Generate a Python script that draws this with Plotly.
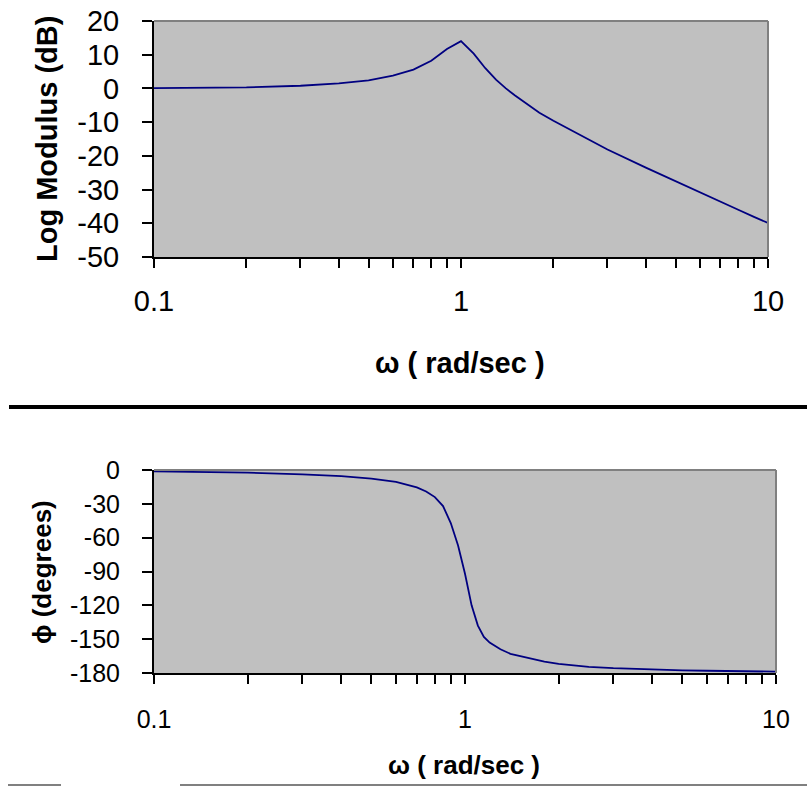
import plotly.graph_objects as go

# ---- data ----
omega_mag = [0.1, 0.2, 0.3, 0.4, 0.5, 0.6, 0.7, 0.8, 0.9, 1.0, 1.1, 1.2, 1.3, 1.4,
             1.5, 1.6, 1.8, 2.0, 2.5, 3.0, 4.0, 5.0, 6.0, 7.0, 8.0, 9.0, 10.0]
log_modulus_db = [0.1, 0.3, 0.8, 1.5, 2.4, 3.8, 5.6, 8.2, 11.7, 14.0, 10.3, 6.0, 2.6, 0.0,
                  -2.1, -4.0, -7.2, -9.6, -14.4, -18.1, -23.5, -27.6, -30.9, -33.6, -36.0, -38.1, -39.9]

omega_phase = [0.1, 0.2, 0.3, 0.4, 0.5, 0.6, 0.7, 0.75, 0.8, 0.85, 0.9, 0.95, 1.0, 1.05,
               1.1, 1.15, 1.2, 1.3, 1.4, 1.6, 1.8, 2.0, 2.5, 3.0, 4.0, 5.0, 6.0, 7.0, 8.0, 9.0, 10.0]
phase_deg = [-1.2, -2.4, -3.8, -5.4, -7.6, -10.6, -15.4, -19.0, -24.0, -32.0, -47.0, -67.0, -92.0, -120.0,
             -138.0, -148.0, -153.0, -159.0, -163.0, -167.0, -170.0, -172.0, -174.5, -175.7, -177.0,
             -177.6, -178.0, -178.3, -178.5, -178.7, -178.8]

x_tickvals = [0.1, 1, 10]
x_ticktext = ["0.1", "1", "10"]
x_minor = [0.2, 0.3, 0.4, 0.5, 0.6, 0.7, 0.8, 0.9, 2, 3, 4, 5, 6, 7, 8, 9]
mag_tickvals = [20, 10, 0, -10, -20, -30, -40, -50]
mag_ticktext = ["20", "10", "0", "-10", "-20", "-30", "-40", "-50"]
ph_tickvals = [0, -30, -60, -90, -120, -150, -180]
ph_ticktext = ["0", "-30", "-60", "-90", "-120", "-150", "-180"]

W, H = 807, 787
FONT = "Liberation Sans, Arial, sans-serif"
LINE = "#000080"

fig = go.Figure()
fig.add_trace(go.Scatter(x=omega_mag, y=log_modulus_db, mode="lines",
                         line=dict(color=LINE, width=1.8), xaxis="x", yaxis="y",
                         showlegend=False))
fig.add_trace(go.Scatter(x=omega_phase, y=phase_deg, mode="lines",
                         line=dict(color=LINE, width=1.8), xaxis="x2", yaxis="y2",
                         showlegend=False))

def xax(domain, anchor, size, standoff):
    return dict(type="log", range=[-1, 1], domain=domain, anchor=anchor,
                automargin=False,
                tickmode="array", tickvals=x_tickvals, ticktext=x_ticktext,
                ticks="outside", ticklen=9, tickwidth=1.5, tickcolor="black",
                showline=True, linecolor="black", linewidth=2,
                showgrid=False, zeroline=False,
                minor=dict(tickvals=x_minor, ticks="outside", ticklen=9,
                           tickwidth=1.5, tickcolor="black", showgrid=False),
                tickfont=dict(family=FONT, size=size, color="black"),
                ticklabelstandoff=standoff)

def yax(domain, anchor, rng, tv, tt, size, standoff):
    return dict(range=rng, domain=domain, anchor=anchor,
                automargin=False,
                tickmode="array", tickvals=tv, ticktext=tt,
                ticks="outside", ticklen=10, tickwidth=1.5, tickcolor="black",
                showline=True, linecolor="black", linewidth=2,
                showgrid=False, zeroline=False,
                tickfont=dict(family=FONT, size=size, color="black"),
                ticklabelstandoff=standoff)

top_x = [154 / W, 768 / W]
top_y = [1 - 257 / H, 1 - 21 / H]
bot_x = [154 / W, 776 / W]
bot_y = [1 - 673 / H, 1 - 470 / H]

fig.update_layout(
    template="none",
    width=W, height=H, margin=dict(l=0, r=0, t=0, b=0, pad=0, autoexpand=False),
    paper_bgcolor="white", plot_bgcolor="#C0C0C0",
    xaxis=xax(top_x, "y", 29, 8),
    yaxis=yax(top_y, "x", [-50, 20], mag_tickvals, mag_ticktext, 29, 17),
    xaxis2=xax(bot_x, "y2", 25, 14),
    yaxis2=yax(bot_y, "x2", [-180, 0], ph_tickvals, ph_ticktext, 25, 17),
)

shapes = []
# gray top/right border of both plot areas
for xr, yr in (("x domain", "y domain"), ("x2 domain", "y2 domain")):
    shapes.append(dict(type="line", xref=xr, yref=yr, x0=0, x1=1, y0=1, y1=1,
                       line=dict(color="#808080", width=2)))
    shapes.append(dict(type="line", xref=xr, yref=yr, x0=1, x1=1, y0=0, y1=1,
                       line=dict(color="#808080", width=2)))
# black separator between the two charts
shapes.append(dict(type="line", xref="paper", yref="paper", x0=9 / W, x1=1,
                   y0=1 - 407 / H, y1=1 - 407 / H, line=dict(color="black", width=4)))
# thin gray lines at the bottom
shapes.append(dict(type="line", xref="paper", yref="paper", x0=8 / W, x1=61 / W,
                   y0=1 - 785 / H, y1=1 - 785 / H, line=dict(color="#808080", width=2)))
shapes.append(dict(type="line", xref="paper", yref="paper", x0=180 / W, x1=1,
                   y0=1 - 785 / H, y1=1 - 785 / H, line=dict(color="#808080", width=2)))
fig.update_layout(shapes=shapes)

bold = dict(family=FONT, color="black")
common = dict(xref="paper", yref="paper", showarrow=False, xanchor="center", yanchor="middle")
annotations = [
    dict(text="<b>Log Modulus (dB)</b>", x=47 / W, y=1 - 139 / H, textangle=-90,
         font=dict(size=29, **bold), **common),
    dict(text="<b>ω ( rad/sec )</b>", x=460 / W, y=1 - 363 / H,
         font=dict(size=29, **bold), **common),
    dict(text="<b>ϕ (degrees)</b>", x=42 / W, y=1 - 572 / H, textangle=-90,
         font=dict(size=26, **bold), **common),
    dict(text="<b>ω ( rad/sec )</b>", x=464 / W, y=1 - 765 / H,
         font=dict(size=26, **bold), **common),
]
fig.update_layout(annotations=annotations)

fig.write_html("out.html", config={"displayModeBar": False},
               post_script="document.body.style.margin='0';document.body.style.overflow='hidden';")
